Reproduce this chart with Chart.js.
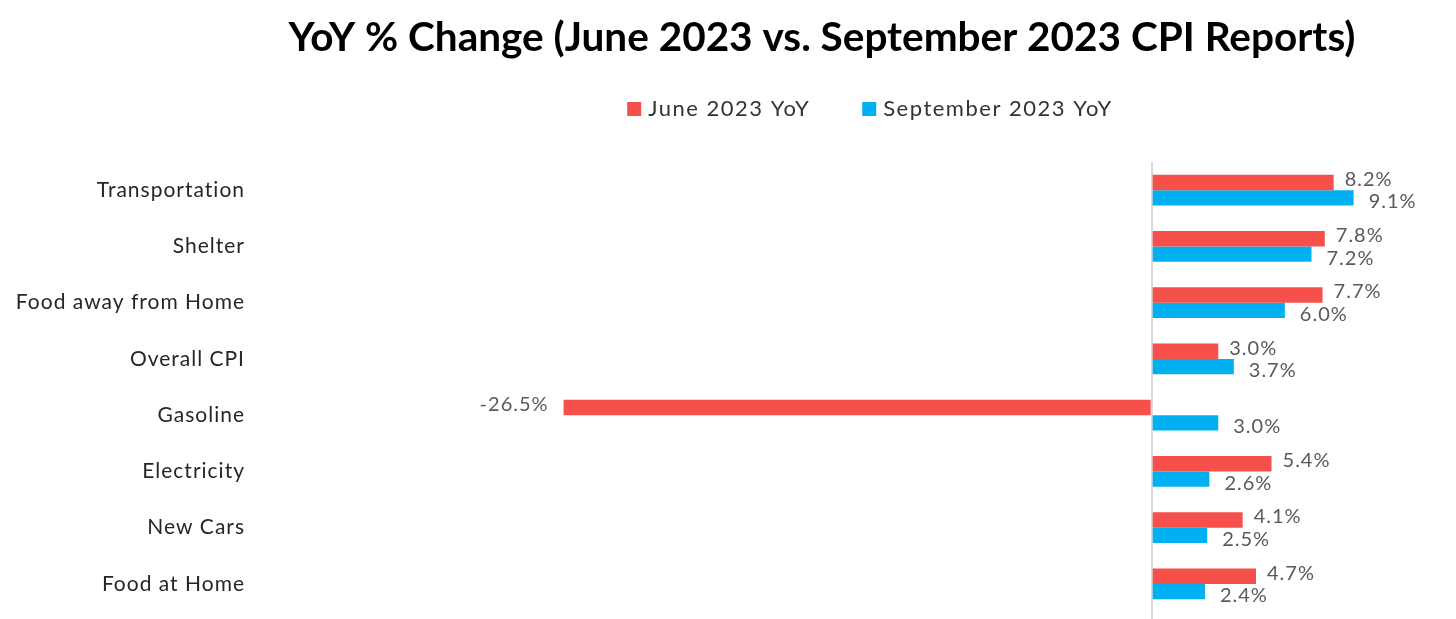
<!DOCTYPE html>
<html>
<head>
<meta charset="utf-8">
<script src="https://cdn.jsdelivr.net/npm/chart.js@4"></script>
<style>
  html, body { margin: 0; padding: 0; background: #fff; }
  canvas { display: block; }
</style>
</head>
<body>
<canvas id="cpiChart" width="1456" height="619"></canvas>
<script>
// Data
const chartTitle = 'YoY % Change (June 2023 vs. September 2023 CPI Reports)';
const categories = ['Transportation', 'Shelter', 'Food away from Home', 'Overall CPI',
    'Gasoline', 'Electricity', 'New Cars', 'Food at Home'];
const seriesNames = ['June 2023 YoY', 'September 2023 YoY'];
const juneYoY = [8.2, 7.8, 7.7, 3.0, -26.5, 5.4, 4.1, 4.7];
const septYoY = [9.1, 7.2, 6.0, 3.7, 3.0, 2.6, 2.5, 2.4];
const seriesColors = ['#F5504A', '#00B0F0'];

const fontFamily = 'Lato, "Liberation Sans", sans-serif';

// the Excel text is a bit spread out, so widen all canvas text a little
const spacing = {
    id: 'spacing',
    beforeDraw(chart) {
        chart.ctx.letterSpacing = '1px';
    }
};

// Value labels at the end of each bar
const valueLabels = {
    id: 'valueLabels',
    afterDatasetsDraw(chart) {
        const ctx = chart.ctx;
        ctx.save();
        ctx.letterSpacing = '1px';
        ctx.font = '20px ' + fontFamily;
        ctx.fillStyle = '#595959';
        ctx.textBaseline = 'middle';
        chart.data.datasets.forEach((ds, i) => {
            const meta = chart.getDatasetMeta(i);
            const dy = i === 0 ? -3 : 4;
            const dx = i === 0 ? 11 : 15;
            meta.data.forEach((bar, j) => {
                const v = ds.data[j];
                const txt = v.toFixed(1) + '%';
                if (v >= 0) {
                    ctx.textAlign = 'left';
                    ctx.fillText(txt, bar.x + dx, bar.y + dy);
                } else {
                    ctx.textAlign = 'right';
                    ctx.fillText(txt, bar.x - 15, bar.y + dy);
                }
            });
        });
        ctx.restore();
    }
};

// Title and legend, placed like the Excel original
const header = {
    id: 'header',
    afterDraw(chart) {
        const ctx = chart.ctx;
        ctx.save();
        ctx.letterSpacing = '0px';
        ctx.fillStyle = '#000';
        ctx.font = 'bold 40.5px ' + fontFamily;
        ctx.textAlign = 'center';
        ctx.textBaseline = 'middle';
        ctx.fillText(chartTitle, 822, 38);

        ctx.letterSpacing = '1.5px';
        ctx.font = '22px ' + fontFamily;
        ctx.textAlign = 'left';
        const box = 14, gap = 7, itemGap = 52;
        const widths = chart.data.datasets.map(ds => ctx.measureText(ds.label).width);
        const total = widths.reduce((a, w) => a + box + gap + w, 0) + itemGap;
        let x = 870 - total / 2;
        const y = 109;
        chart.data.datasets.forEach((ds, i) => {
            ctx.fillStyle = ds.backgroundColor;
            ctx.fillRect(x, y - box / 2, box, box);
            ctx.fillStyle = '#333';
            ctx.fillText(ds.label, x + box + gap, y);
            x += box + gap + widths[i] + itemGap;
        });
        ctx.restore();
    }
};

new Chart('cpiChart', {
    type: 'bar',
    data: {
        labels: categories,
        datasets: [{
            label: seriesNames[0],
            data: juneYoY,
            backgroundColor: seriesColors[0],
            barPercentage: 1,
            categoryPercentage: 0.55
        }, {
            label: seriesNames[1],
            data: septYoY,
            backgroundColor: seriesColors[1],
            barPercentage: 1,
            categoryPercentage: 0.55
        }]
    },
    options: {
        indexAxis: 'y',
        responsive: false,
        animation: false,
        layout: {
            autoPadding: false,
            padding: { top: 162, bottom: 7, left: 0, right: 38 }
        },
        plugins: {
            legend: { display: false },
            title: { display: false },
            tooltip: { enabled: false }
        },
        scales: {
            x: {
                min: -40,
                max: 12,
                ticks: { display: false, stepSize: 1 },
                border: { display: false },
                grid: {
                    drawTicks: true,
                    tickLength: 7,
                    lineWidth: 2,
                    color: ctx => ctx.tick && ctx.tick.value === 0 ? '#D9D9D9' : 'transparent'
                },
                afterFit(scale) {
                    scale.height = 0;
                    scale.paddingLeft = 0;
                    scale.paddingRight = 0;
                }
            },
            y: {
                grid: { display: false, drawTicks: false },
                border: { display: false },
                ticks: {
                    padding: 19,
                    color: '#262626',
                    font: { family: fontFamily, size: 21 }
                },
                afterFit(scale) {
                    scale.width = 264;
                    // keep label padding from shrinking the plot area
                    scale.paddingTop = 0;
                    scale.paddingBottom = 0;
                }
            }
        }
    },
    plugins: [spacing, valueLabels, header]
});
</script>
</body>
</html>
